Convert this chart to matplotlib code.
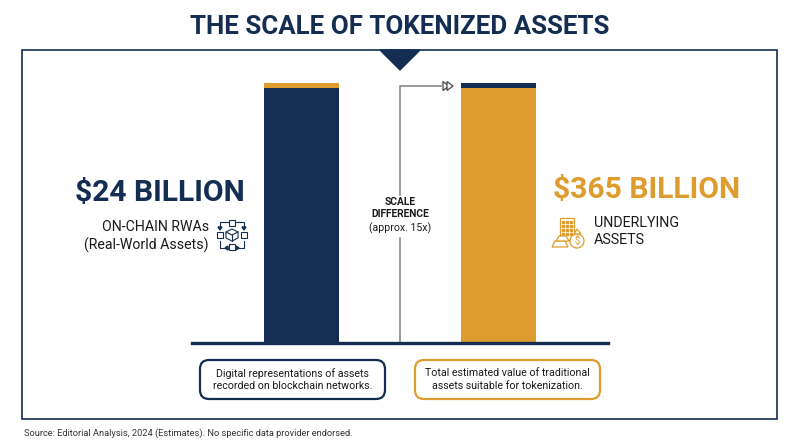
import matplotlib
matplotlib.use("Agg")
import matplotlib.pyplot as plt
from matplotlib.patches import Rectangle, Polygon, FancyBboxPatch, Circle

# colors
navy = "#132E52"
gold = "#DE9C2E"
grey = "#8A8A8A"
ink = "#1A1A1A"

# data
categories = ["On-chain RWAs", "Underlying assets"]
bar_heights = [98, 98]      # bars are drawn at the same height in the picture
cap_heights = [2, 2]
bar_colors = [navy, gold]
cap_colors = [gold, navy]
headline_left = "$24 BILLION"
headline_right = "$365 BILLION"
note_left = "Digital representations of assets\nrecorded on blockchain networks."
note_right = "Total estimated value of traditional\nassets suitable for tokenization."

plt.rcParams['font.family'] = ['Roboto', 'DejaVu Sans']

fig = plt.figure(figsize=(8, 4.47), dpi=100)

# whole figure axes in pixels, for frame, texts and icons
bg = fig.add_axes([0, 0, 1, 1])
bg.set_xlim(0, 800)
bg.set_ylim(447, 0)
bg.axis('off')

bg.text(400, 27, "THE SCALE OF TOKENIZED ASSETS", ha='center', va='center',
        fontsize=18.6, fontweight='bold', color=navy)
bg.add_patch(Rectangle((22, 50), 755, 369, fill=False, ec=navy, lw=1.2))
bg.add_patch(Polygon([(380, 50), (420, 50), (400, 70)], color=navy))

# bars
W, H = 800, 447
left, right, top, base = 192, 608, 83, 343
ax = fig.add_axes([left / W, 1 - base / H, (right - left) / W, (base - top) / H])
ax.patch.set_alpha(0)
ax.set_xlim(-109.5 / 197, 1 + 109.5 / 197)
ax.set_ylim(0, 100)
x = [0, 1]
ax.bar(x, bar_heights, width=75 / 197, color=bar_colors)
ax.bar(x, cap_heights, width=75 / 197, bottom=bar_heights, color=cap_colors)
ax.set_xticks([])
ax.set_yticks([])
for s in ['top', 'left', 'right']:
    ax.spines[s].set_visible(False)
ax.spines['bottom'].set_color(navy)
ax.spines['bottom'].set_linewidth(2.4)

# scale connector
bg.plot([400, 400, 443], [343, 86, 86], color=grey, lw=1.2, solid_joinstyle='miter')
bg.add_patch(Polygon([(443, 81.5), (449, 86), (443, 90.5)], fc='white', ec='#444444', lw=0.9))
bg.add_patch(Polygon([(447, 81.5), (453, 86), (447, 90.5)], fc='white', ec='#444444', lw=0.9))
bg.add_patch(Rectangle((362, 196), 76, 40, color='white', zorder=3))
bg.text(400, 208, "SCALE\nDIFFERENCE", ha='center', va='center', fontsize=7.4,
        fontweight='bold', color=ink, zorder=4, linespacing=1.25)
bg.text(400, 228, "(approx. 15x)", ha='center', va='center', fontsize=7.6, color=ink, zorder=4)

# left labels
bg.text(245, 193, headline_left, ha='right', va='center', fontsize=21.6, fontweight='bold', color=navy)
bg.text(209, 227, "ON-CHAIN RWAs", ha='right', va='center', fontsize=10.2, color=ink)
bg.text(209, 245, "(Real-World Assets)", ha='right', va='center', fontsize=10.2, color=ink)

# network icon
ic = dict(fill=False, ec=navy, lw=0.8)
for cx, cy in [(232, 223), (220, 235), (244, 235), (232, 247)]:
    bg.add_patch(Rectangle((cx - 3, cy - 3), 6, 6, **ic))
bg.add_patch(Polygon([(232, 229), (238, 232), (238, 238), (232, 241), (226, 238), (226, 232)], **ic))
bg.plot([226, 232, 238], [232, 235, 232], color=navy, lw=0.8)
bg.plot([232, 232], [235, 241], color=navy, lw=0.8)
for xs, ys in [([236, 244, 244], [222, 222, 229]), ([228, 220, 220], [222, 222, 229]),
               ([220, 220, 228], [241, 248, 248]), ([244, 244, 236], [241, 248, 248])]:
    bg.plot(xs, ys, color=navy, lw=0.8)
for pts in [[(242, 227), (246, 227), (244, 230)], [(218, 227), (222, 227), (220, 230)],
            [(228, 246), (228, 250), (225, 248)], [(236, 246), (236, 250), (239, 248)]]:
    bg.add_patch(Polygon(pts, color=navy))

# right labels
bg.text(553, 190, headline_right, ha='left', va='center', fontsize=21.6, fontweight='bold', color=gold)
bg.text(594, 223, "UNDERLYING", ha='left', va='center', fontsize=10.3, color=ink)
bg.text(594, 240, "ASSETS", ha='left', va='center', fontsize=10.3, color=ink)

# building, gold bars, money bag icon
ic = dict(fill=False, ec=gold, lw=0.9)
bg.add_patch(Rectangle((560, 218), 14, 22, **ic))
for cx in [563, 567, 571]:
    for cy in [222, 226, 230, 234]:
        bg.add_patch(Rectangle((cx - 1, cy - 1), 2, 2, color=gold))
bg.add_patch(Polygon([(552, 247), (555, 241), (565, 241), (568, 247)], fc='white', ec=gold, lw=0.9))
bg.add_patch(Polygon([(556, 241), (559, 236), (566, 236), (569, 241)], fc='white', ec=gold, lw=0.9))
bg.add_patch(Circle((577, 241), 7, fc='white', ec=gold, lw=0.9))
bg.add_patch(Polygon([(574, 234), (577, 229), (581, 234)], fc='white', ec=gold, lw=0.9))
bg.text(577, 241, "$", ha='center', va='center', fontsize=7, color=gold)

# callouts
for (bx, col, txt) in [(200, navy, note_left), (415, gold, note_right)]:
    bg.add_patch(FancyBboxPatch((bx, 360), 185, 39, boxstyle="round,pad=0,rounding_size=9",
                                fc='white', ec=col, lw=1.6))
    bg.text(bx + 92.5, 379.5, txt, ha='center', va='center', fontsize=7.7, color=ink, linespacing=1.35)

bg.text(24, 433, "Source: Editorial Analysis, 2024 (Estimates). No specific data provider endorsed.",
        ha='left', va='center', fontsize=6.7, color='#333333')

fig.savefig("out.png", dpi=100)
